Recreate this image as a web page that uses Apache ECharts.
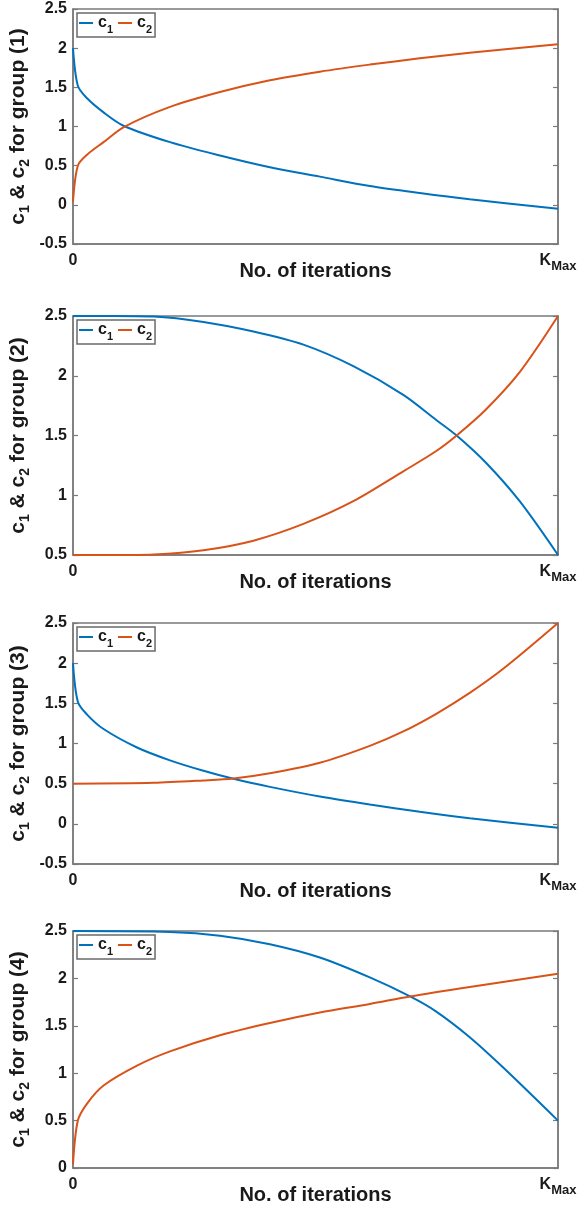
<!DOCTYPE html>
<html>
<head>
<meta charset="utf-8">
<script src="https://cdn.jsdelivr.net/npm/echarts@6/dist/echarts.min.js"></script>
<style>
  html, body { margin: 0; padding: 0; background: #ffffff; }
  #chart { width: 584px; height: 1213px; }
</style>
</head>
<body>
<div id="chart"></div>
<script>
// Iteration positions are given in percent of K_Max.
// Group (1)
const g1X  = [0, 1, 2.9, 6.3, 10.4, 20, 30.3, 40.6, 50.9, 61.2, 71.5, 81.8, 100];
const g1C1 = [2.0, 1.52, 1.36, 1.18, 1.01, 0.80, 0.63, 0.48, 0.36, 0.24, 0.15, 0.07, -0.05];
const g1C2 = [0.04, 0.5, 0.64, 0.80, 0.99, 1.25, 1.44, 1.59, 1.70, 1.79, 1.87, 1.94, 2.05];

// Group (2)
const g2X  = [0, 8, 16.6, 26.9, 37.2, 47.5, 57.8, 68.1, 74.9, 79.1, 85.2, 92.1, 100];
const g2C1 = [2.5, 2.5, 2.495, 2.45, 2.37, 2.26, 2.08, 1.84, 1.63, 1.50, 1.27, 0.95, 0.5];
const g2C2 = [0.5, 0.5, 0.505, 0.54, 0.62, 0.76, 0.95, 1.20, 1.37, 1.50, 1.72, 2.03, 2.5];

// Group (3)
const g3X1 = [0, 1, 2.9, 6.3, 13.2, 20, 26.9, 33.1, 40.6, 50.9, 61.2, 71.5, 81.8, 100];
const g3C1 = [2.0, 1.52, 1.36, 1.18, 0.95, 0.79, 0.66, 0.56, 0.46, 0.34, 0.24, 0.15, 0.07, -0.05];
const g3X2 = [0, 16.6, 26.9, 33.1, 40.6, 50.9, 61.2, 68.1, 74.9, 81.8, 88.7, 100];
const g3C2 = [0.5, 0.51, 0.54, 0.565, 0.63, 0.76, 0.97, 1.15, 1.37, 1.63, 1.93, 2.5];

// Group (4)
const g4X1 = [0, 20, 30.3, 40.6, 50.9, 61.2, 69.5, 74.9, 81.8, 88.7, 100];
const g4C1 = [2.5, 2.49, 2.45, 2.36, 2.22, 2.01, 1.81, 1.65, 1.38, 1.06, 0.5];
const g4X2 = [0, 1, 2.9, 6.3, 13.2, 20, 30.3, 40.6, 50.9, 61.2, 69.5, 81.8, 100];
const g4C2 = [0.04, 0.5, 0.68, 0.87, 1.08, 1.23, 1.40, 1.53, 1.64, 1.73, 1.81, 1.91, 2.05];

// Axis ranges and labels
const yMins = [-0.5, 0.5, -0.5, 0];
const yMax = 2.5;
const yStep = 0.5;
const groupLabels = ['(1)', '(2)', '(3)', '(4)'];
const xTickLabels = ['0', 'K', 'Max'];
const xTitle = 'No. of iterations';
const seriesNames = ['c1', 'c2'];

const panels = [
  { c1x: g1X, c1: g1C1, c2x: g1X, c2: g1C2 },
  { c1x: g2X, c1: g2C1, c2x: g2X, c2: g2C2 },
  { c1x: g3X1, c1: g3C1, c2x: g3X2, c2: g3C2 },
  { c1x: g4X1, c1: g4C1, c2x: g4X2, c2: g4C2 }
];

const FONT = 'Liberation Sans, Arial, sans-serif';
const TXT = '#1a1a1a';
const FRAME = '#7a7a7a';
const BLUE = '#0072BD';
const ORANGE = '#D95319';

const gridTops = [9, 316, 623, 931];
const gridHeights = [235, 239, 241, 237];

const zip = (xs, ys) => xs.map((x, i) => [x, ys[i]]);

const option = {
  animation: false,
  backgroundColor: '#ffffff',
  grid: [], xAxis: [], yAxis: [], series: [], legend: []
};

panels.forEach((p, i) => {
  option.grid.push({
    left: 73, right: 26, top: gridTops[i], height: gridHeights[i],
    outerBoundsMode: 'none', containLabel: false,
    show: true, borderColor: FRAME, borderWidth: 1.5, backgroundColor: '#ffffff'
  });

  option.xAxis.push({
    type: 'value', gridIndex: i, min: 0, max: 100, interval: 100,
    name: xTitle, nameLocation: 'middle', nameGap: 17, nameMoveOverlap: false,
    nameTextStyle: { fontFamily: FONT, fontWeight: 'bold', fontSize: 20, color: TXT },
    axisLine: { show: true, onZero: false, lineStyle: { color: FRAME, width: 1.5 } },
    axisTick: { show: false },
    splitLine: { show: false },
    axisLabel: {
      show: true, margin: 5, showMinLabel: true, showMaxLabel: true,
      formatter: v => v === 0 ? '{k|' + xTickLabels[0] + '}' : '{k|' + xTickLabels[1] + '}{m|' + xTickLabels[2] + '}',
      rich: {
        k: { fontFamily: FONT, fontWeight: 'bold', fontSize: 16, color: TXT, lineHeight: 24, verticalAlign: 'middle' },
        m: { fontFamily: FONT, fontWeight: 'bold', fontSize: 13, color: TXT, lineHeight: 8, verticalAlign: 'bottom' }
      }
    }
  });

  const yCommon = {
    type: 'value', gridIndex: i, min: yMins[i], max: yMax, interval: yStep,
    splitLine: { show: false },
    axisLine: { show: true, onZero: false, lineStyle: { color: FRAME, width: 1.5 } },
    axisTick: { show: true, inside: true, length: 5, lineStyle: { color: FRAME, width: 1.2 } }
  };

  option.yAxis.push(Object.assign({}, yCommon, {
    position: 'left',
    name: '{m|c}{s|1}{m| & c}{s|2}{m| for group ' + groupLabels[i] + '}',
    nameLocation: 'middle', nameRotate: 90, nameGap: 41, nameMoveOverlap: false,
    nameTextStyle: {
      rich: {
        m: { fontFamily: FONT, fontWeight: 'bold', fontSize: 21, color: TXT, lineHeight: 28, verticalAlign: 'middle' },
        s: { fontFamily: FONT, fontWeight: 'bold', fontSize: 14, color: TXT, lineHeight: 12, verticalAlign: 'bottom' }
      }
    },
    axisLabel: { show: true, margin: 6, fontFamily: FONT, fontWeight: 'bold', fontSize: 16, color: TXT }
  }));

  option.yAxis.push(Object.assign({}, yCommon, {
    position: 'right', axisLabel: { show: false }
  }));

  option.series.push({
    name: seriesNames[0], type: 'line', xAxisIndex: i, yAxisIndex: 2 * i,
    data: zip(p.c1x, p.c1), showSymbol: false, smooth: 0.3,
    lineStyle: { color: BLUE, width: 2 }, itemStyle: { color: BLUE }
  });
  option.series.push({
    name: seriesNames[1], type: 'line', xAxisIndex: i, yAxisIndex: 2 * i,
    data: zip(p.c2x, p.c2), showSymbol: false, smooth: 0.3,
    lineStyle: { color: ORANGE, width: 2 }, itemStyle: { color: ORANGE }
  });

  option.legend.push({
    left: 77, top: gridTops[i] + 4, orient: 'horizontal',
    data: seriesNames, icon: 'rect', itemWidth: 14, itemHeight: 2, itemGap: 5,
    padding: [2, 3, 2, 2], borderColor: '#6a6a6a', borderWidth: 1.5,
    backgroundColor: '#ffffff', selectedMode: false,
    formatter: n => '{b|c}{s|' + n.slice(1) + '}',
    textStyle: {
      rich: {
        b: { fontFamily: FONT, fontWeight: 'bold', fontSize: 16, color: TXT, lineHeight: 24, verticalAlign: 'middle' },
        s: { fontFamily: FONT, fontWeight: 'bold', fontSize: 11, color: TXT, lineHeight: 12, verticalAlign: 'bottom' }
      }
    }
  });
});

const chart = echarts.init(document.getElementById('chart'), null, { renderer: 'canvas' });
chart.setOption(option);
</script>
</body>
</html>
